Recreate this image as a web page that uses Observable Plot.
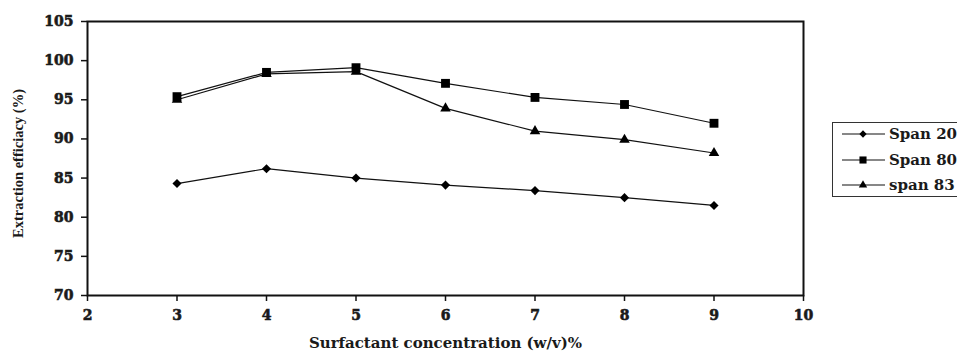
<!DOCTYPE html>
<html>
<head>
<meta charset="utf-8">
<script src="https://cdn.jsdelivr.net/npm/d3@7"></script>
<script src="https://cdn.jsdelivr.net/npm/@observablehq/plot@0.6"></script>
<style>
  html, body { margin: 0; padding: 0; background: #fff; }
  #wrap { position: relative; width: 957px; height: 354px; overflow: hidden; }
  #chart svg text { font-weight: bold; }
  #chart svg g[aria-label$="tick label"] text { stroke: #1a1a1a; stroke-width: 0.6px; }
  #legend { position: absolute; left: 832px; top: 122px; width: 140px; height: 75px;
            border: 1.5px solid #333; box-sizing: border-box; background: #fff;
            font-family: "DejaVu Serif", serif; font-weight: bold; font-size: 15px; color: #1a1a1a; }
  #legend .row { position: absolute; left: 0; height: 20px; display: flex; align-items: center; }
  #legend svg { display: block; }
</style>
</head>
<body>
<div id="wrap"><div id="chart"></div><div id="legend"></div></div>
<script>
const concentrations = [3, 4, 5, 6, 7, 8, 9];
const span20 = [84.3, 86.2, 85.0, 84.1, 83.4, 82.5, 81.5];
const span80 = [95.4, 98.5, 99.1, 97.1, 95.3, 94.4, 92.0];
const span83 = [95.0, 98.3, 98.6, 93.9, 91.0, 89.9, 88.2];
const seriesNames = ["Span 20", "Span 80", "span 83"];
const seriesSymbols = ["diamond", "square", "triangle"];
const xTicks = [2, 3, 4, 5, 6, 7, 8, 9, 10];
const yTicks = [70, 75, 80, 85, 90, 95, 100, 105];

const symbolTypes = {diamond: d3.symbolDiamond2, square: d3.symbolSquare, triangle: d3.symbolTriangle};
const symbolR = {diamond: 4.1, square: 5.0, triangle: 3.9};

const seriesValues = [span20, span80, span83];
const data = [];
seriesNames.forEach((name, i) => {
  concentrations.forEach((c, j) => data.push({series: name, x: c, y: seriesValues[i][j]}));
});

const font = "DejaVu Serif, serif";
const chart = Plot.plot({
  width: 957,
  height: 354,
  marginLeft: 87,
  marginTop: 21,
  marginRight: 154,
  marginBottom: 59,
  style: {fontFamily: font, fontWeight: "bold", fontSize: "14px", color: "#1a1a1a", background: "#fff"},
  x: {domain: [2, 10], label: null},
  y: {domain: [70, 105], label: null},
  marks: [
    Plot.frame({stroke: "#111", strokeWidth: 2}),
    Plot.axisX({ticks: xTicks, tickSize: 6, tickPadding: 9, stroke: "#111", strokeWidth: 1.5, fontSize: 14, fontWeight: "bold", label: null}),
    Plot.axisY({ticks: yTicks, tickSize: 6, tickPadding: 8, stroke: "#111", strokeWidth: 1.5, fontSize: 14, fontWeight: "bold", label: null}),
    Plot.line(data, {x: "x", y: "y", z: "series", stroke: "#111", strokeWidth: 1.2}),
    ...seriesNames.map((name, i) => Plot.dot(data.filter(d => d.series === name),
      {x: "x", y: "y", symbol: symbolTypes[seriesSymbols[i]], r: symbolR[seriesSymbols[i]], fill: "#000", stroke: "none"})),
    Plot.text(["Surfactant concentration (w/v)%"], {frameAnchor: "bottom", dy: 52, fontSize: 15, fontWeight: "bold"}),
    Plot.text(["Extraction efficiacy (%)"], {frameAnchor: "left", textAnchor: "middle", dx: -69, dy: 5, rotate: -90, fontSize: 14.5, fontWeight: "bold", fontFamily: "Liberation Serif, serif"})
  ]
});
document.getElementById("chart").appendChild(chart);

// Legend
const legend = document.getElementById("legend");
seriesNames.forEach((name, i) => {
  const row = document.createElement("div");
  row.className = "row";
  row.style.top = (1 + i * 25.5) + "px";
  const t = seriesSymbols[i];
  const r = symbolR[t] * 0.8;
  const sym = d3.symbol().type(symbolTypes[t]).size(Math.PI * r * r)();
  row.innerHTML = `<svg width="56" height="20"><line x1="9" x2="52" y1="10" y2="10" stroke="#111" stroke-width="1.2"/><path d="${sym}" transform="translate(30,10)" fill="#000"/></svg><span>${name}</span>`;
  legend.appendChild(row);
});
</script>
</body>
</html>
